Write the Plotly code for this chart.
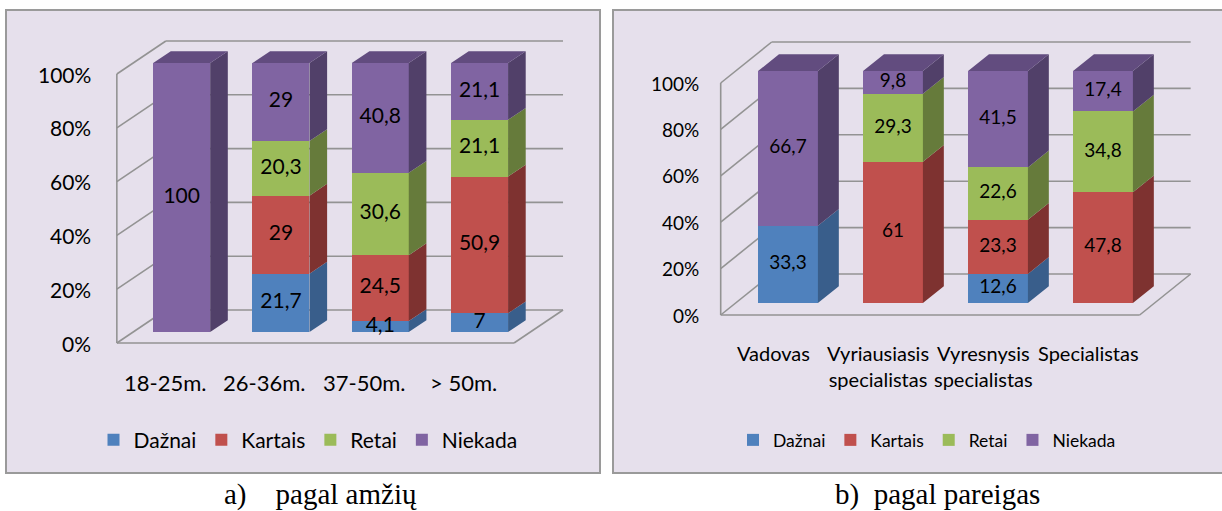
import plotly.graph_objects as go

# ---------------- data ----------------
series = ["Dažnai", "Kartais", "Retai", "Niekada"]

age_categories = ["18-25m.", "26-36m.", "37-50m.", "> 50m."]
age_daznai = [0, 21.7, 4.1, 7]
age_kartais = [0, 29, 24.5, 50.9]
age_retai = [0, 20.3, 30.6, 21.1]
age_niekada = [100, 29, 40.8, 21.1]

pos_categories = ["Vadovas", "Vyriausiasis<br>specialistas", "Vyresnysis<br>specialistas", "Specialistas"]
pos_daznai = [33.3, 0, 12.6, 0]
pos_kartais = [0, 61, 23.3, 47.8]
pos_retai = [0, 29.3, 22.6, 34.8]
pos_niekada = [66.7, 9.8, 41.5, 17.4]

y_ticks = [0, 20, 40, 60, 80, 100]

captions = ["a)\u00a0\u00a0\u00a0\u00a0pagal amžių", "b)\u00a0\u00a0pagal pareigas"]

# ---------------- style ----------------
W, H = 1222, 511
FONT = "Lato"
front_col = ["#4F81BD", "#C0504D", "#9BBB59", "#8064A2"]
side_col = ["#395E8B", "#7E3230", "#667B3B", "#514069"]
top_col = ["#43699A", "#9E3F3C", "#7D9847", "#624C7F"]
BG = "#E6E0EC"
GRID = "#939393"

panels = [
    dict(cats=age_categories, vals=[age_daznai, age_kartais, age_retai, age_niekada],
         dom=(0, 611), box=(6, 10, 600, 473),
         x0=165.5, sx=99.3, y0=343, sy=2.69, Dx=49, Dy=-33, d0=0.33, d1=0.69, bw=0.574,
         uax=-0.49, uend=3.51, fs_tick=21, fs_lab=21, fs_cat=22, fs_leg=21,
         tick_right=93, cat_gap=24, leg_x=308, cap_x=222),
    dict(cats=pos_categories, vals=[pos_daznai, pos_kartais, pos_retai, pos_niekada],
         dom=(612, 1222), box=(613, 10, 1270, 473),
         x0=773.2, sx=105, y0=315, sy=2.32, Dx=51, Dy=-41, d0=0.29, d1=0.70, bw=0.57,
         uax=-0.50, uend=3.49, fs_tick=19, fs_lab=19, fs_cat=20, fs_leg=17.5,
         tick_right=701, cat_gap=24, leg_x=927, cap_x=833),
]

fig = go.Figure()
shapes = []
annotations = []

for k, P in enumerate(panels):
    sfx = "" if k == 0 else str(k + 1)
    xref, yref = "x" + sfx, "y" + sfx
    x0b = P["x0"] + P["Dx"] * P["d0"]
    y0b = P["y0"] + P["Dy"] * P["d0"]

    def XY(u, v, d, P=P):
        return (u + P["Dx"] * (d - P["d0"]) / P["sx"],
                v - P["Dy"] * (d - P["d0"]) / P["sy"])

    # panel background
    bl, bt, br, bb = P["box"]
    shapes.append(dict(type="rect", xref="paper", yref="paper",
                       x0=bl / W, x1=br / W, y0=1 - bb / H, y1=1 - bt / H,
                       fillcolor=BG, line=dict(color="#9A9A9A", width=2), layer="below"))

    # walls / gridlines
    def seg(a, b):
        shapes.append(dict(type="line", xref=xref, yref=yref, x0=a[0], y0=a[1],
                           x1=b[0], y1=b[1], line=dict(color=GRID, width=1.6), layer="below"))

    for t in y_ticks:
        seg(XY(P["uax"], t, 0), XY(P["uax"], t, 1))
        seg(XY(P["uax"], t, 1), XY(P["uend"], t, 1))
    seg(XY(P["uax"], 0, 0), XY(P["uax"], y_ticks[-1], 0))
    seg(XY(P["uax"], 0, 0), XY(P["uend"], 0, 0))
    seg(XY(P["uend"], 0, 0), XY(P["uend"], 0, 1))

    n = len(P["cats"])
    totals = [sum(P["vals"][s][i] for s in range(4)) for i in range(n)]
    norm = [[P["vals"][s][i] / totals[i] * 100 for i in range(n)] for s in range(4)]

    # front faces
    for s in range(4):
        fig.add_trace(go.Bar(
            x=list(range(n)), y=norm[s], name=series[s], width=P["bw"],
            marker=dict(color=front_col[s], line=dict(width=0)),
            xaxis=xref, yaxis=yref, legend="legend" + sfx, hoverinfo="skip",
            textposition="none"))

    # side and top faces
    half = P["bw"] / 2
    for s in range(4):
        xs, ys = [], []
        for i in range(n):
            if norm[s][i] <= 0:
                continue
            lo = sum(norm[q][i] for q in range(s))
            hi = lo + norm[s][i]
            for (v, d) in [(lo, P["d0"]), (lo, P["d1"]), (hi, P["d1"]), (hi, P["d0"])]:
                X, Y = XY(i + half, v, d)
                xs.append(X); ys.append(Y)
            xs.append(None); ys.append(None)
        fig.add_trace(go.Scatter(x=xs, y=ys, fill="toself", mode="none",
                                 fillcolor=side_col[s], xaxis=xref, yaxis=yref,
                                 showlegend=False, hoverinfo="skip"))
    for s in range(4):
        xs, ys = [], []
        for i in range(n):
            top_s = max(q for q in range(4) if norm[q][i] > 0)
            if top_s != s:
                continue
            hi = sum(norm[q][i] for q in range(4))
            for (u, d) in [(i - half, P["d0"]), (i + half, P["d0"]), (i + half, P["d1"]), (i - half, P["d1"])]:
                X, Y = XY(u, hi, d)
                xs.append(X); ys.append(Y)
            xs.append(None); ys.append(None)
        if xs:
            fig.add_trace(go.Scatter(x=xs, y=ys, fill="toself", mode="none",
                                     fillcolor=top_col[s], xaxis=xref, yaxis=yref,
                                     showlegend=False, hoverinfo="skip"))

    # data labels
    lx, ly, lt = [], [], []
    for i in range(n):
        cum = 0
        for s in range(4):
            if P["vals"][s][i] > 0:
                lx.append(i)
                ly.append(cum + norm[s][i] / 2)
                lt.append(f"{P['vals'][s][i]:g}".replace(".", ","))
            cum += norm[s][i]
    fig.add_trace(go.Scatter(x=lx, y=ly, text=lt, mode="text",
                             textfont=dict(family=FONT, size=P["fs_lab"], color="#000000"),
                             xaxis=xref, yaxis=yref, showlegend=False, hoverinfo="skip",
                             cliponaxis=False))

    # y tick labels (front plane)
    for t in y_ticks:
        X, Y = XY(P["uax"], t, 0)
        ax_px = x0b + X * P["sx"]
        annotations.append(dict(x=X, y=Y, xref=xref, yref=yref, text=f"{t}%",
                                showarrow=False, xanchor="right", yanchor="middle",
                                xshift=-(ax_px - P["tick_right"]),
                                font=dict(family=FONT, size=P["fs_tick"], color="#000000")))
    # category labels
    for i, c in enumerate(P["cats"]):
        X, Y = XY(i, 0, 0)
        annotations.append(dict(x=X, y=Y, xref=xref, yref=yref, text=c,
                                showarrow=False, xanchor="center", yanchor="top",
                                yshift=-P["cat_gap"], align="center",
                                font=dict(family=FONT, size=P["fs_cat"], color="#000000")))

    # axes
    L, R = P["dom"]
    fig.layout["xaxis" + sfx] = dict(domain=[L / W, R / W],
                                     range=[(L - x0b) / P["sx"], (R - x0b) / P["sx"]],
                                     visible=False, anchor=yref)
    fig.layout["yaxis" + sfx] = dict(domain=[0, 1],
                                     range=[(y0b - H) / P["sy"], y0b / P["sy"]],
                                     visible=False, anchor=xref)
    fig.layout["legend" + sfx] = dict(orientation="h", x=P["leg_x"] / W, xanchor="center",
                                      y=1 - 440 / H, yanchor="middle", traceorder="normal",
                                      bgcolor="rgba(0,0,0,0)",
                                      font=dict(family=FONT, size=P["fs_leg"], color="#000000"))

    # caption
    annotations.append(dict(x=P["cap_x"] / W, y=1 - 494 / H, xref="paper", yref="paper",
                            text=captions[k], showarrow=False, xanchor="left", yanchor="middle",
                            font=dict(family="Liberation Serif", size=29, color="#000000")))

fig.update_layout(width=W, height=H, margin=dict(l=0, r=0, t=0, b=0),
                  paper_bgcolor="white", plot_bgcolor="rgba(0,0,0,0)",
                  barmode="stack", shapes=shapes, annotations=annotations,
                  showlegend=True)

fig.write_html("out.html", config={"displayModeBar": False},
               post_script="document.body.style.margin='0';document.body.style.overflow='hidden';")
